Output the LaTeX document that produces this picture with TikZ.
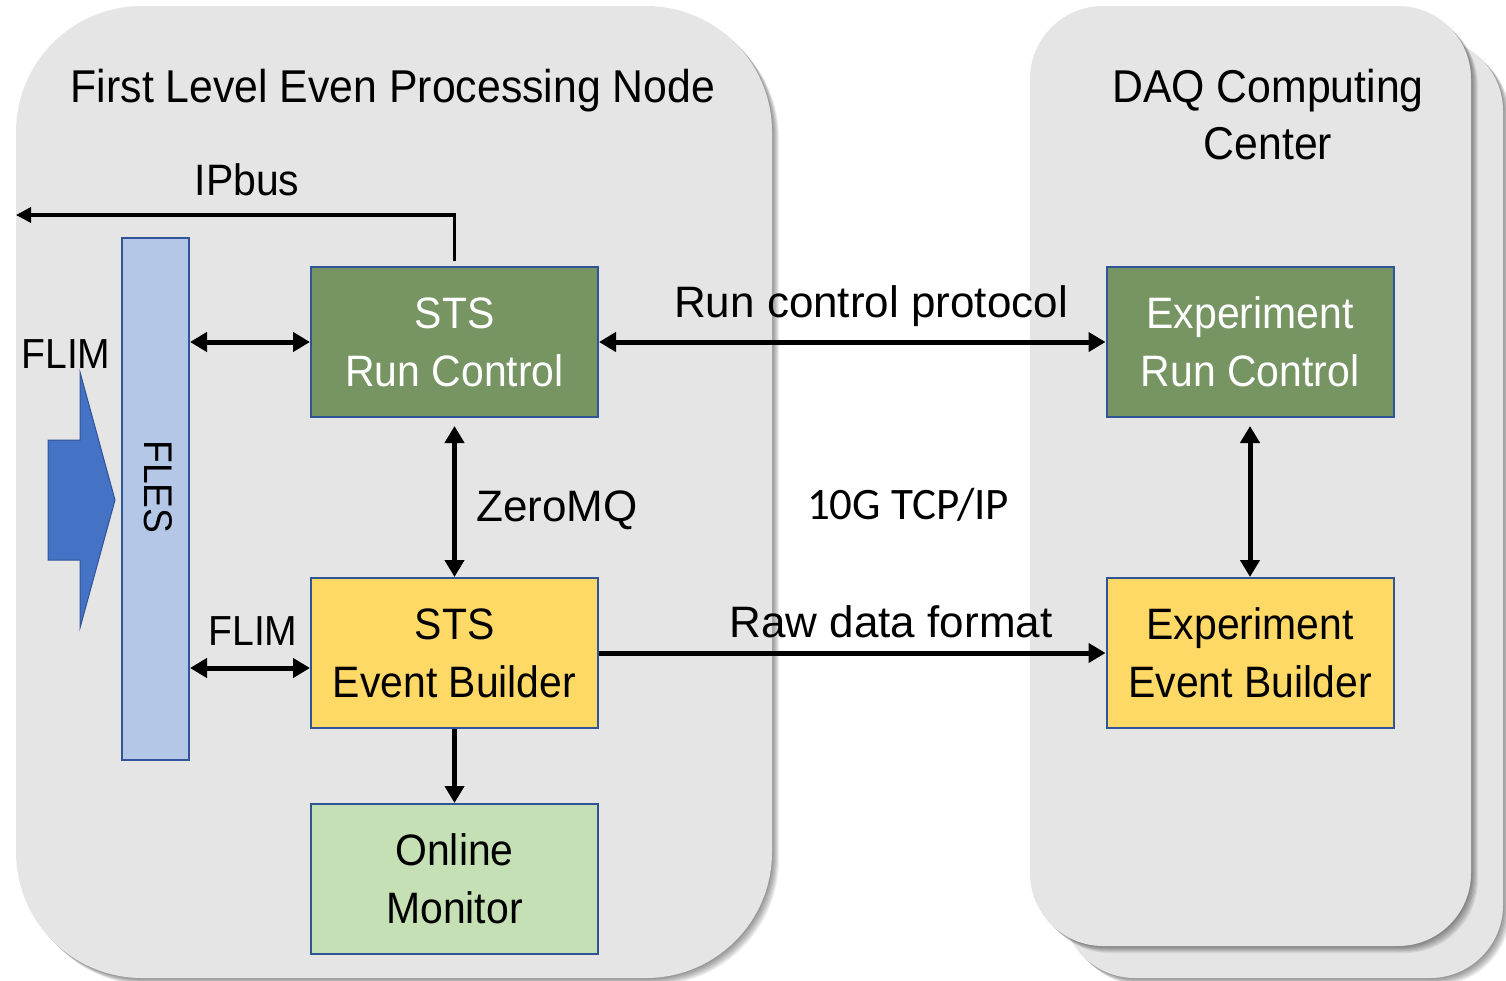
\documentclass[tikz,border=0pt]{standalone}
\usepackage{fontspec}
\setmainfont{Liberation Sans}[FakeStretch=0.93]
\newfontfamily\widefont{Liberation Sans}
\newfontfamily\calfont{Carlito}
\usetikzlibrary{arrows.meta}
\definecolor{panelgray}{RGB}{229,229,229}
\definecolor{boxborder}{RGB}{47,85,151}
\definecolor{rcgreen}{RGB}{119,149,99}
\definecolor{ebyellow}{RGB}{255,217,102}
\definecolor{omgreen}{RGB}{197,224,180}
\definecolor{flesblue}{RGB}{180,199,231}
\definecolor{arrowblue}{RGB}{68,114,196}
\tikzset{
  panelbg/.style={fill=panelgray},
  panelshadow/.style={fill=black, opacity=0.07},
  box/.style={draw=boxborder, line width=2pt, minimum width=287pt, minimum height=150pt,
    inner sep=0pt, align=center, font=\fontsize{44}{58}\selectfont},
  lbl/.style={font=\fontsize{44}{52}\selectfont, anchor=base, inner sep=0pt},
  titlelbl/.style={font=\fontsize{46}{56}\selectfont, anchor=base, inner sep=0pt},
  biarrow/.style={line width=5pt, {Triangle[length=17pt,width=19pt]}-{Triangle[length=17pt,width=19pt]}},
  onearrow/.style={line width=5pt, -{Triangle[length=17pt,width=19pt]}},
  thinarrow/.style={line width=3.5pt, -{Triangle[length=15pt,width=15pt]}}
}
\begin{document}
\begin{tikzpicture}[x=1pt,y=-1pt]
\useasboundingbox (0,0) rectangle (1506,980);
% panels with soft shadows
\foreach \d in {1,...,7} {
  \fill[panelshadow, rounded corners=126pt] (16+\d,6+\d) rectangle (772+\d,978+\d);
}
\fill[panelbg, rounded corners=126pt] (16,6) rectangle (772,978);
\foreach \d in {1,...,7} {
  \fill[panelshadow, rounded corners=73pt] (1062+\d,38+\d) rectangle (1503+\d,978+\d);
}
\fill[panelbg, rounded corners=73pt] (1062,38) rectangle (1503,978);
\foreach \d in {1,...,7} {
  \fill[panelshadow, rounded corners=73pt] (1030+\d,6+\d) rectangle (1471+\d,946+\d);
}
\fill[panelbg, rounded corners=73pt] (1030,6) rectangle (1471,946);

% titles
\node[titlelbl] (title1) at (393,102) {First Level Even Processing Node};
\node[titlelbl] (title2) at (1268,102) {DAQ Computing};
\node[titlelbl] (title3) at (1268,159) {Center};

% FLES bar and input arrow
\node[draw=boxborder, line width=2pt, fill=flesblue, minimum width=67pt, minimum height=522pt, inner sep=0pt] (fles) at (155.5,499) {};
\node[font=\fontsize{40}{48}\selectfont, rotate=-90, inner sep=0pt] (fleslbl) at (158,487) {FLES};
\draw[fill=arrowblue, draw=boxborder, line width=1pt] (48,440) -- (80,440) -- (80,372) -- (115,500) -- (80,628) -- (80,560) -- (48,560) -- cycle;

% boxes
\node[box, fill=rcgreen, text=white] (rc) at (454.5,342) {STS\\Run Control};
\node[box, fill=ebyellow] (eb) at (454.5,653) {STS\\Event Builder};
\node[box, fill=omgreen] (om) at (454.5,879) {Online\\Monitor};
\node[box, fill=rcgreen, text=white] (erc) at (1250,342) {Experiment\\Run Control};
\node[box, fill=ebyellow] (eeb) at (1250,653) {Experiment\\Event Builder};

% labels
\node[lbl] (ipbus) at (247,195) {IPbus};
\node[lbl, font=\fontsize{42}{50}\selectfont] (flim1) at (66,368) {FLIM};
\node[lbl, font=\fontsize{42}{50}\selectfont] (flim2) at (253,645) {FLIM};
\node[lbl, anchor=base west, font=\widefont\fontsize{44}{52}\selectfont] (zmq) at (476,521) {ZeroMQ};
\node[lbl, font=\calfont\fontsize{45}{52}\selectfont] (tcp) at (908,519) {10G TCP/IP};
\node[lbl, font=\widefont\fontsize{44}{52}\selectfont] (rcp) at (871,317) {Run control protocol};
\node[lbl, font=\widefont\fontsize{44}{52}\selectfont] (raw) at (891,637) {Raw data format};

% connectors
\coordinate (ipbusend) at (16,215);
\coordinate (ebflim) at ([yshift=-15pt]eb.west);
\draw[thinarrow] ([yshift=5pt]rc.north) |- (ipbusend);
\draw[biarrow] (fles.east |- rc.west) -- (rc.west);
\draw[biarrow] (fles.east |- ebflim) -- (ebflim);
\draw[biarrow] ([yshift=-8pt]rc.south) -- (eb.north);
\draw[onearrow] (eb.south) -- (om.north);
\draw[biarrow] (rc.east) -- (erc.west);
\draw[onearrow] (eb.east) -- (eeb.west);
\draw[biarrow] ([yshift=-8pt]erc.south) -- (eeb.north);
\end{tikzpicture}
\end{document}
